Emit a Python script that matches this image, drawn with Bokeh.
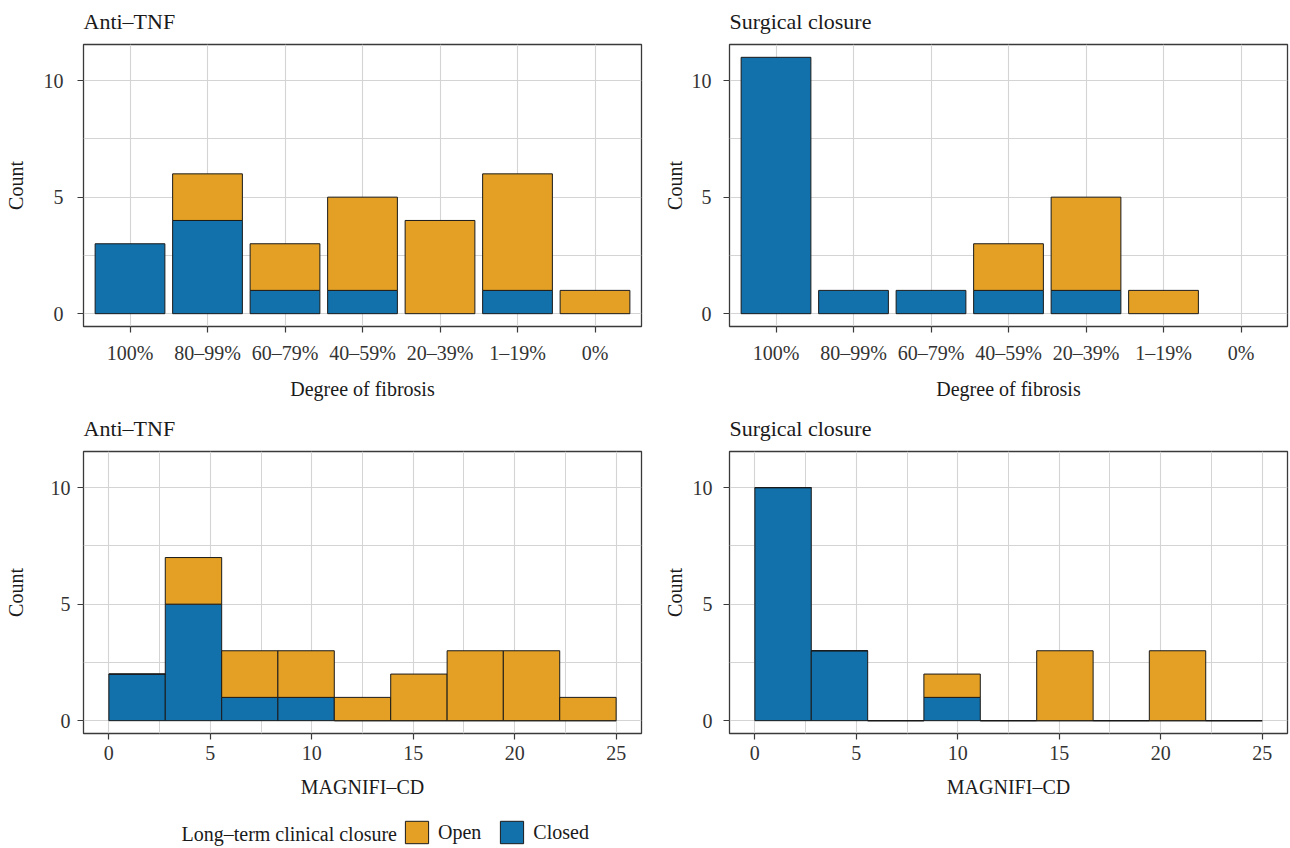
from bokeh.plotting import figure
from bokeh.layouts import column, row
from bokeh.models import Range1d, FixedTicker, Legend, LegendItem, Label, ColumnDataSource
from bokeh.embed import file_html
from bokeh.resources import INLINE

# ---------------- data ----------------
fibrosis_categories = ["100%", "80–99%", "60–79%", "40–59%", "20–39%", "1–19%", "0%"]
antitnf_fibrosis_closed = [3, 4, 1, 1, 0, 1, 0]
antitnf_fibrosis_open = [0, 2, 2, 4, 4, 5, 1]
surgical_fibrosis_closed = [11, 1, 1, 1, 1, 0, 0]
surgical_fibrosis_open = [0, 0, 0, 2, 4, 1, 0]

magnifi_bin_edges = [0.0, 2.78, 5.56, 8.33, 11.11, 13.89, 16.67, 19.44, 22.22, 25.0]
antitnf_magnifi_closed = [2, 5, 1, 1, 0, 0, 0, 0, 0]
antitnf_magnifi_open = [0, 2, 2, 2, 1, 2, 3, 3, 1]
surgical_magnifi_closed = [10, 3, 0, 1, 0, 0, 0, 0, 0]
surgical_magnifi_open = [0, 0, 0, 1, 0, 3, 0, 3, 0]

count_ticks = [0, 5, 10]
count_minor = [2.5, 7.5]
magnifi_ticks = [0, 5, 10, 15, 20, 25]
magnifi_minor = [2.5, 7.5, 12.5, 17.5, 22.5]

panel_titles = ["Anti–TNF", "Surgical closure"]
legend_title = "Long–term clinical closure"
group_labels = ["Open", "Closed"]

# ---------------- style ----------------
FONT = "Liberation Serif"
OPEN_COLOR = "#E3A025"
CLOSED_COLOR = "#1271AA"
EDGE = "#1a1a1a"
GRID = "#d4d4d4"
FRAME = "#3a3a3a"
FRAME_W = 558
FRAME_H = 282
TXT = "20px"
PAGE_W = 1290
LEFT_FRAME_X = [83, 729]


def strip(height):
    s = figure(width=PAGE_W, height=height, x_range=Range1d(0, PAGE_W),
               y_range=Range1d(0, height), output_backend="svg", toolbar_location=None,
               min_border=0, min_border_left=0, min_border_right=0,
               min_border_top=0, min_border_bottom=0)
    s.axis.visible = False
    s.grid.visible = False
    s.outline_line_color = None
    s.background_fill_color = "white"
    s.border_fill_color = "white"
    return s


def title_strip(height, baseline_from_bottom):
    s = strip(height)
    for x, t in zip(LEFT_FRAME_X, panel_titles):
        s.add_layout(Label(x=x, y=baseline_from_bottom, x_units="screen", y_units="screen",
                           text=t, text_font=FONT, text_font_size="22px",
                           text_color="#1a1a1a", text_align="left",
                           text_baseline="alphabetic"))
    return s


def base_figure(xr, xticks, xminor, xlabel, left, right, top, bottom,
                y_std, y_lab_std, x_std, x_lab_std, overrides=None):
    p = figure(width=left + FRAME_W + right, height=top + FRAME_H + bottom,
               x_range=xr, y_range=Range1d(-0.55, 11.55),
               output_backend="svg", toolbar_location=None,
               min_border_left=left, min_border_right=right,
               min_border_top=top, min_border_bottom=bottom)
    p.background_fill_color = "white"
    p.border_fill_color = "white"
    p.outline_line_color = FRAME
    p.outline_line_width = 1.3

    p.xaxis.ticker = FixedTicker(ticks=xticks, minor_ticks=xminor)
    p.yaxis.ticker = FixedTicker(ticks=count_ticks, minor_ticks=count_minor)
    if overrides:
        p.xaxis.major_label_overrides = overrides

    for ax in (p.xaxis[0], p.yaxis[0]):
        ax.axis_line_color = None
        ax.major_tick_line_color = FRAME
        ax.major_tick_line_width = 1.2
        ax.major_tick_out = 6
        ax.major_tick_in = 0
        ax.minor_tick_line_color = None
        ax.major_label_text_font = FONT
        ax.major_label_text_font_size = TXT
        ax.major_label_text_color = "#333333"
        ax.axis_label_text_font = FONT
        ax.axis_label_text_font_size = TXT
        ax.axis_label_text_font_style = "normal"
        ax.axis_label_text_color = "#1a1a1a"

    p.xaxis.axis_label = xlabel
    p.yaxis.axis_label = "Count"
    p.yaxis.major_label_standoff = y_std
    p.yaxis.axis_label_standoff = y_lab_std
    p.xaxis.major_label_standoff = x_std
    p.xaxis.axis_label_standoff = x_lab_std

    p.xgrid.grid_line_color = GRID
    p.ygrid.grid_line_color = GRID
    p.xgrid.grid_line_width = 1.1
    p.ygrid.grid_line_width = 1.1
    p.xgrid.minor_grid_line_color = GRID if xminor else None
    p.ygrid.minor_grid_line_color = GRID
    p.xgrid.minor_grid_line_width = 1.0
    p.ygrid.minor_grid_line_width = 1.0
    return p


def bar_panel(closed, opened, left, right, top, bottom, y_std, y_lab_std):
    positions = list(range(1, len(fibrosis_categories) + 1))
    overrides = {pos: cat for pos, cat in zip(positions, fibrosis_categories)}
    p = base_figure(Range1d(0.4, len(fibrosis_categories) + 0.6), positions, [],
                    "Degree of fibrosis", left, right, top, bottom,
                    y_std, y_lab_std, 9, 11, overrides)
    c = {"x": [], "bottom": [], "top": []}
    o = {"x": [], "bottom": [], "top": []}
    for pos, nc, no in zip(positions, closed, opened):
        if nc > 0:
            c["x"].append(pos); c["bottom"].append(0); c["top"].append(nc)
        if no > 0:
            o["x"].append(pos); o["bottom"].append(nc); o["top"].append(nc + no)
    p.vbar(x="x", bottom="bottom", top="top", width=0.9, source=ColumnDataSource(c),
           fill_color=CLOSED_COLOR, line_color=EDGE, line_width=1)
    p.vbar(x="x", bottom="bottom", top="top", width=0.9, source=ColumnDataSource(o),
           fill_color=OPEN_COLOR, line_color=EDGE, line_width=1)
    return p


def hist_panel(closed, opened, left, right, top, bottom, y_std, y_lab_std):
    p = base_figure(Range1d(-1.25, 26.25), magnifi_ticks, magnifi_minor,
                    "MAGNIFI–CD", left, right, top, bottom,
                    y_std, y_lab_std, 6, 13)
    lefts = magnifi_bin_edges[:-1]
    rights = magnifi_bin_edges[1:]
    c = dict(left=lefts, right=rights, bottom=[0] * len(closed), top=closed)
    o = dict(left=lefts, right=rights, bottom=closed,
             top=[a + b for a, b in zip(closed, opened)])
    p.quad(left="left", right="right", bottom="bottom", top="top", source=ColumnDataSource(c),
           fill_color=CLOSED_COLOR, line_color=EDGE, line_width=1)
    p.quad(left="left", right="right", bottom="bottom", top="top", source=ColumnDataSource(o),
           fill_color=OPEN_COLOR, line_color=EDGE, line_width=1)
    return p


t1 = title_strip(42, 21)
p1 = bar_panel(antitnf_fibrosis_closed, antitnf_fibrosis_open, 83, 10, 2, 84, 14, 14)
p2 = bar_panel(surgical_fibrosis_closed, surgical_fibrosis_open, 78, 3, 2, 84, 12, 3)
t2 = title_strip(39, 21)
p3 = hist_panel(antitnf_magnifi_closed, antitnf_magnifi_open, 83, 10, 2, 72, 7, 21)
p4 = hist_panel(surgical_magnifi_closed, surgical_magnifi_open, 78, 3, 2, 72, 11, 4)

# ---------------- legend strip ----------------
LH = 43
lg = strip(LH)
# legend key renderers kept outside the visible strip (only their legend keys show)
r_open = lg.quad(left=[-60], right=[-50], bottom=[-60], top=[-50], fill_color=OPEN_COLOR,
                 line_color=EDGE, line_width=1)
r_closed = lg.quad(left=[-60], right=[-50], bottom=[-60], top=[-50], fill_color=CLOSED_COLOR,
                   line_color=EDGE, line_width=1)
lg.add_layout(Label(x=181, y=15, x_units="screen", y_units="screen", text=legend_title,
                    text_font=FONT, text_font_size=TXT, text_color="#1a1a1a",
                    text_baseline="middle", text_align="left"))
legend = Legend(items=[LegendItem(label=group_labels[0], renderers=[r_open]),
                       LegendItem(label=group_labels[1], renderers=[r_closed])],
                location=(402, 2), orientation="horizontal",
                glyph_width=29, glyph_height=28, label_standoff=7, spacing=16,
                padding=0, margin=0, border_line_color=None, background_fill_alpha=0,
                label_text_font=FONT, label_text_font_size=TXT,
                label_text_color="#1a1a1a", label_height=28)
lg.add_layout(legend, "center")

layout = column(t1, row(p1, p2), t2, row(p3, p4), lg)

with open("out.html", "w") as f:
    f.write(file_html(layout, INLINE))
